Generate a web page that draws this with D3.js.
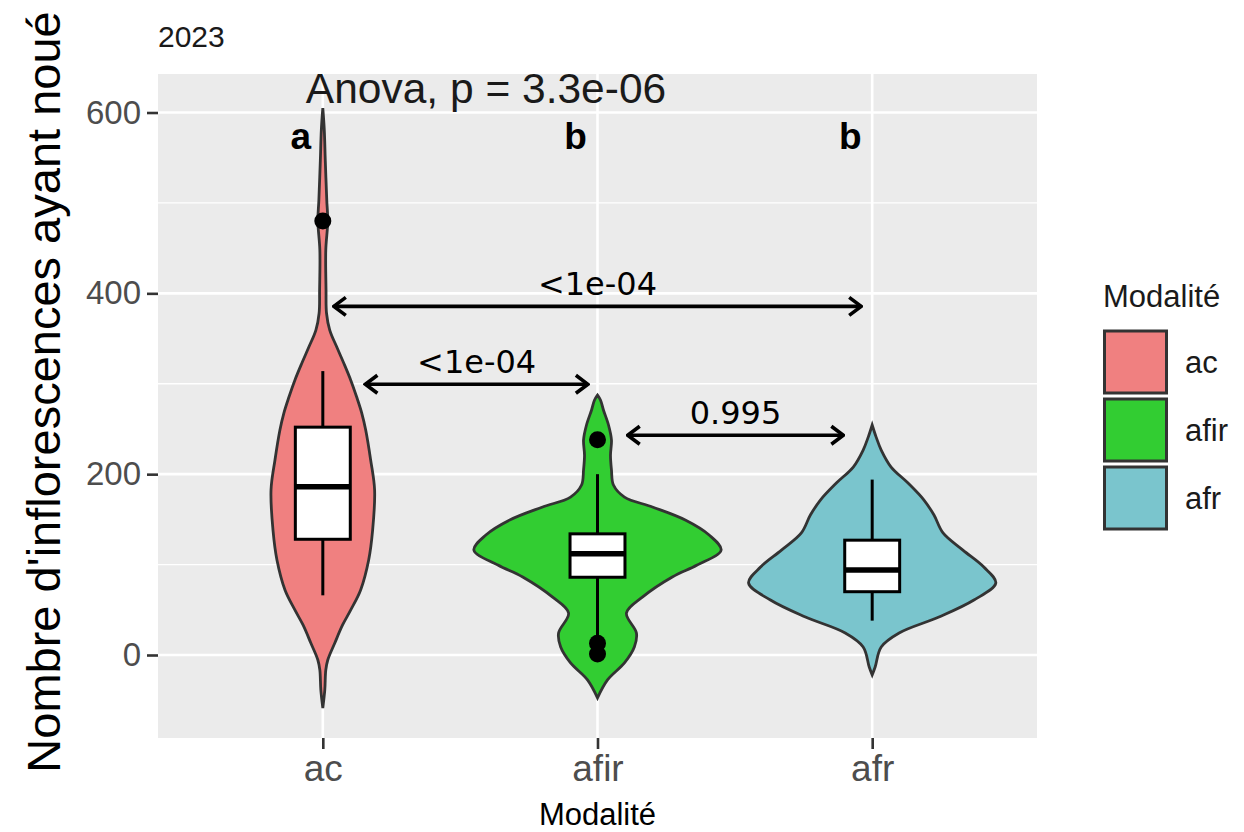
<!DOCTYPE html>
<html>
<head>
<meta charset="utf-8">
<script src="https://d3js.org/d3.v7.min.js"></script>
<style>
 body{margin:0;background:#fff}
 text{font-family:"Liberation Sans",Arial,sans-serif}
</style>
</head>
<body>
<script>
// ---- data ----
var categories = ["ac","afir","afr"]
var fills = ["#F08080","#32CD32","#7AC5CD"]

// violin outlines : value, relative half width (1 = widest violin)
var acViolinV  = [-58.6,-38.7,-16.6,-5.5,13.3,33.2,49.8,71.9,105,138,182.5,215.7,248.8,267.6,285.3,304,323,340.6,359.4,378,403.7,448,480,503,547,580.6,605]
var acViolinW  = [0,.016,.024,.04,.097,.16,.226,.306,.371,.403,.419,.387,.347,.315,.274,.226,.169,.113,.056,.03,.026,.024,.04,.032,.02,.012,0]
var afirViolinV = [-47.5,-27.6,-8.8,8.8,24.3,46.4,64,86.3,99.5,116,132.7,149.3,163.7,174.7,188,204.6,221,237.8,254.4,271,282,287.5]
var afirViolinW = [0,.081,.218,.298,.315,.234,.363,.605,.806,1,.903,.71,.444,.218,.129,.113,.105,.113,.089,.048,.024,0]
var afrViolinV = [-22.1,-13.3,8.8,24.3,42,60.8,79.6,97.3,116,135,154.8,171.4,190.2,207.9,226.7,241,254.4]
var afrViolinW = [0,.024,.073,.218,.54,.823,1,.903,.734,.573,.5,.419,.29,.153,.073,.032,0]

// box plots
var whiskerLow = [66,20,38]
var q1 = [128,86,70]
var medians = [186,112,94]
var q3 = [252,134,127]
var whiskerHigh = [314,200,194]
var outliers = [[480],[238,13,1],[]]

// letters and tests
var groupLetters = ["a","b","b"]
var lettersY = 560
var anovaLabel = "Anova, p = 3.3e-06"
var anovaY = 610.5
var compFrom = [1.04,1.155,2.11]
var compTo = [2.96,1.965,2.895]
var compY = [385.6,299.4,243]
var compLabels = ["<1e-04","<1e-04","0.995"]

var yTicks = [0,200,400,600]
var yMinor = [100,300,500]

// ---- layout ----
var W=1244,H=832
var panel={left:158,right:1037,top:74,bottom:738}

var svg=d3.select("body").append("svg").attr("width",W).attr("height",H)

var x=d3.scalePoint().domain(categories).range([panel.left,panel.right]).padding(0.6)
var xNum=d3.scaleLinear().domain([0.4,3.6]).range([panel.left,panel.right])
var y=d3.scaleLinear().domain([-91.8,642.6]).range([panel.bottom,panel.top])
var step=x.step()
var halfMax=0.45*step

svg.append("rect").attr("x",panel.left).attr("y",panel.top)
  .attr("width",panel.right-panel.left).attr("height",panel.bottom-panel.top)
  .attr("fill","#EBEBEB")

var grid=svg.append("g")
grid.selectAll(".minor").data(yMinor).enter().append("line")
  .attr("x1",panel.left).attr("x2",panel.right)
  .attr("y1",function(d){return y(d)}).attr("y2",function(d){return y(d)})
  .attr("stroke","#fff").attr("stroke-width",1.3)
grid.selectAll(".major").data(yTicks).enter().append("line")
  .attr("x1",panel.left).attr("x2",panel.right)
  .attr("y1",function(d){return y(d)}).attr("y2",function(d){return y(d)})
  .attr("stroke","#fff").attr("stroke-width",2.6)
grid.selectAll(".vmajor").data(categories).enter().append("line")
  .attr("y1",panel.top).attr("y2",panel.bottom)
  .attr("x1",function(d){return x(d)}).attr("x2",function(d){return x(d)})
  .attr("stroke","#fff").attr("stroke-width",2.6)

// violins
var violinV=[acViolinV,afirViolinV,afrViolinV]
var violinW=[acViolinW,afirViolinW,afrViolinW]
categories.forEach(function(c,i){
  var pts=violinV[i].map(function(v,j){return {v:v,w:violinW[i][j]}})
  var area=d3.area()
    .y(function(d){return y(d.v)})
    .x0(function(d){return x(c)-d.w*halfMax})
    .x1(function(d){return x(c)+d.w*halfMax})
    .curve(d3.curveCatmullRom)
  svg.append("path").datum(pts).attr("d",area)
    .attr("fill",fills[i]).attr("stroke","#333").attr("stroke-width",2.8)
})

// boxes
var boxW=0.2*step
var boxes=svg.append("g")
categories.forEach(function(c,i){
  var g=boxes.append("g")
  g.append("line").attr("x1",x(c)).attr("x2",x(c))
    .attr("y1",y(whiskerLow[i])).attr("y2",y(whiskerHigh[i]))
    .attr("stroke","#000").attr("stroke-width",3)
  g.append("rect").attr("x",x(c)-boxW/2).attr("width",boxW)
    .attr("y",y(q3[i])).attr("height",y(q1[i])-y(q3[i]))
    .attr("fill","#fff").attr("stroke","#000").attr("stroke-width",3)
  g.append("line").attr("x1",x(c)-boxW/2).attr("x2",x(c)+boxW/2)
    .attr("y1",y(medians[i])).attr("y2",y(medians[i]))
    .attr("stroke","#000").attr("stroke-width",5.5)
  g.selectAll("circle").data(outliers[i]).enter().append("circle")
    .attr("cx",x(c)).attr("cy",function(d){return y(d)}).attr("r",8.5).attr("fill","#000")
})

// axes
var yAxis=d3.axisLeft(y).tickValues(yTicks).tickSize(11).tickPadding(6)
var gy=svg.append("g").attr("transform","translate("+panel.left+",0)").call(yAxis)
gy.select(".domain").remove()
gy.selectAll("line").attr("stroke","#333").attr("stroke-width",2.6)
gy.selectAll("text").attr("fill","#4D4D4D").style("font-size","33px")
  .style("font-family","'Liberation Sans',Arial,sans-serif")

var xAxis=d3.axisBottom(x).tickSize(11).tickPadding(6)
var gx=svg.append("g").attr("transform","translate(0,"+panel.bottom+")").call(xAxis)
gx.select(".domain").remove()
gx.selectAll("line").attr("stroke","#333").attr("stroke-width",2.6)
gx.selectAll("text").attr("fill","#4D4D4D").style("font-size","37px")
  .style("font-family","'Liberation Sans',Arial,sans-serif")

// titles
svg.append("text").attr("x",(panel.left+panel.right)/2).attr("y",825)
  .attr("text-anchor","middle").style("font-size","31px").attr("fill","#000").text("Modalité")
svg.append("text").attr("transform","translate(60,"+392+") rotate(-90)")
  .attr("text-anchor","middle").style("font-size","47px").attr("fill","#000")
  .text("Nombre d'inflorescences ayant noué")
svg.append("text").attr("x",panel.left).attr("y",47)
  .style("font-size","30px").attr("fill","#1a1a1a").text("2023")

// group letters and anova
svg.selectAll(".letter").data(groupLetters).enter().append("text")
  .attr("x",function(d,i){return x(categories[i])-0.08*step})
  .attr("y",y(lettersY)).attr("text-anchor","middle")
  .style("font-size","37px").style("font-weight","bold").attr("fill","#000")
  .text(function(d){return d})
svg.append("text").attr("x",x("ac")-17).attr("y",y(anovaY))
  .style("font-size","42.5px").attr("fill","#1a1a1a").text(anovaLabel)

// comparison arrows
var defs=svg.append("defs")
defs.append("marker").attr("id","head").attr("viewBox","0 0 16 22")
  .attr("refX",14).attr("refY",11).attr("markerWidth",16).attr("markerHeight",22)
  .attr("markerUnits","userSpaceOnUse").attr("orient","auto-start-reverse")
  .append("path").attr("d","M2,2 L14,11 L2,20").attr("fill","none")
  .attr("stroke","#000").attr("stroke-width",3.6)

var comps=svg.append("g")
compFrom.forEach(function(f,i){
  comps.append("line").attr("x1",xNum(f)).attr("x2",xNum(compTo[i]))
    .attr("y1",y(compY[i])).attr("y2",y(compY[i]))
    .attr("stroke","#000").attr("stroke-width",3.6)
    .attr("marker-start","url(#head)").attr("marker-end","url(#head)")
  comps.append("text").attr("x",(xNum(f)+xNum(compTo[i]))/2).attr("y",y(compY[i])-11)
    .attr("text-anchor","middle").style("font-size","32px")
    .style("font-family","'DejaVu Sans',sans-serif").attr("fill","#000")
    .text(compLabels[i])
})

// legend
var leg=svg.append("g").attr("transform","translate(1103,0)")
leg.append("text").attr("x",0).attr("y",307).style("font-size","31px").attr("fill","#1a1a1a").text("Modalité")
categories.forEach(function(c,i){
  leg.append("rect").attr("x",1.5).attr("y",331+i*68).attr("width",62).attr("height",62)
    .attr("fill",fills[i]).attr("stroke","#333").attr("stroke-width",3)
  leg.append("text").attr("x",82).attr("y",362+i*68).attr("dy","0.35em")
    .style("font-size","31px").attr("fill","#1a1a1a").text(c)
})
</script>
</body>
</html>
